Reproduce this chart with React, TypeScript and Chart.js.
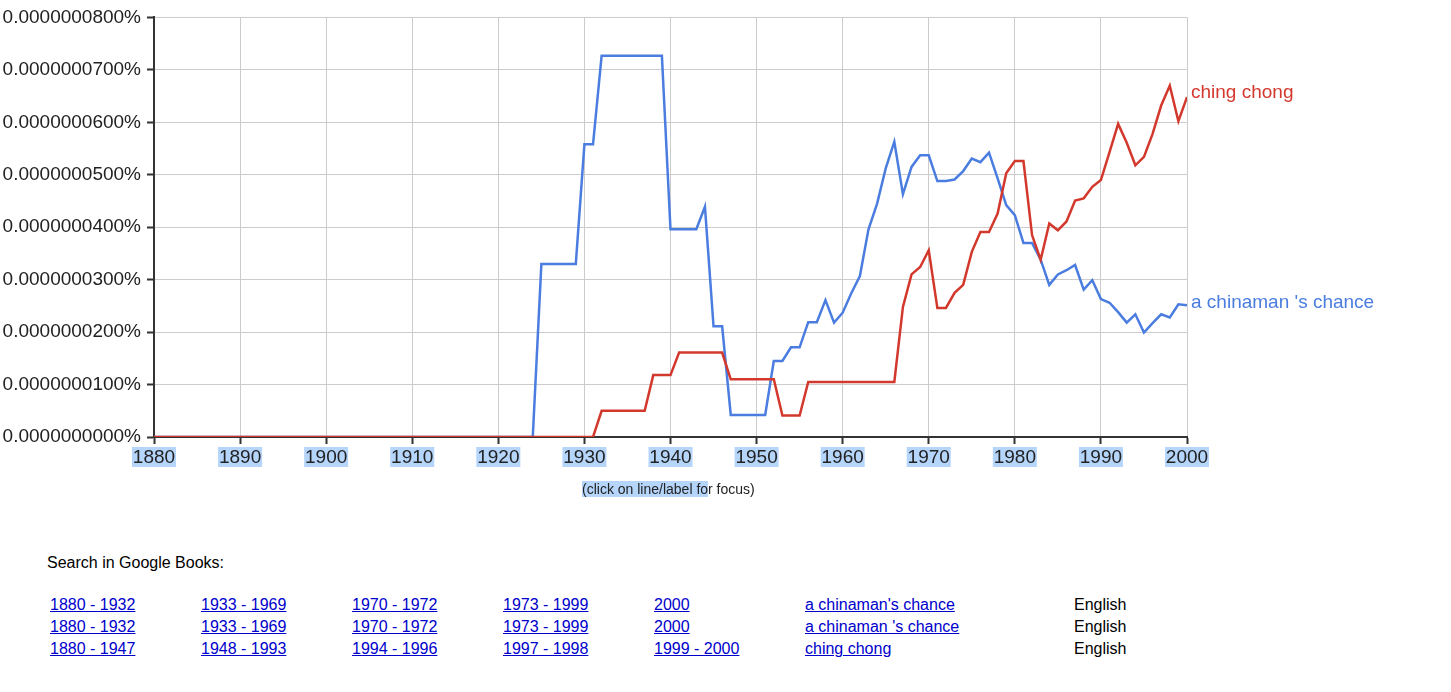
import React, { useEffect, useRef } from "react";
import { Chart, registerables } from "chart.js";

Chart.register(...registerables);

// years on the x axis
const years: number[] = Array.from({ length: 121 }, (_, i) => 1880 + i);

// values in units of 0.0000000100 %
const chinamanChance: number[] = [
  // 1880-1924
  0, 0, 0, 0, 0, 0, 0, 0, 0, 0,
  0, 0, 0, 0, 0, 0, 0, 0, 0, 0,
  0, 0, 0, 0, 0, 0, 0, 0, 0, 0,
  0, 0, 0, 0, 0, 0, 0, 0, 0, 0,
  0, 0, 0, 0, 0,
  // 1925-1939
  3.30, 3.30, 3.30, 3.30, 3.30, 5.58, 5.58, 7.27, 7.27, 7.27, 7.27, 7.27, 7.27, 7.27, 7.27,
  // 1940-1951
  3.96, 3.96, 3.96, 3.96, 4.39, 2.11, 2.11, 0.42, 0.42, 0.42, 0.42, 0.42,
  // 1952-1959
  1.45, 1.45, 1.71, 1.71, 2.19, 2.19, 2.61, 2.18,
  // 1960-1969
  2.37, 2.74, 3.07, 3.96, 4.45, 5.12, 5.63, 4.63, 5.15, 5.37,
  // 1970-1979
  5.37, 4.88, 4.88, 4.91, 5.07, 5.31, 5.24, 5.42, 4.93, 4.42,
  // 1980-1989
  4.23, 3.70, 3.70, 3.38, 2.90, 3.10, 3.18, 3.28, 2.81, 2.99,
  // 1990-2000
  2.63, 2.56, 2.38, 2.18, 2.34, 1.99, 2.17, 2.34, 2.28, 2.53, 2.51,
];

const chingChong: number[] = [
  // 1880-1931
  0, 0, 0, 0, 0, 0, 0, 0, 0, 0,
  0, 0, 0, 0, 0, 0, 0, 0, 0, 0,
  0, 0, 0, 0, 0, 0, 0, 0, 0, 0,
  0, 0, 0, 0, 0, 0, 0, 0, 0, 0,
  0, 0, 0, 0, 0, 0, 0, 0, 0, 0,
  0, 0,
  // 1932-1946
  0.50, 0.50, 0.50, 0.50, 0.50, 0.50, 1.18, 1.18, 1.18, 1.61, 1.61, 1.61, 1.61, 1.61, 1.61,
  // 1947-1966
  1.10, 1.10, 1.10, 1.10, 1.10, 1.10, 0.41, 0.41, 0.41, 1.05,
  1.05, 1.05, 1.05, 1.05, 1.05, 1.05, 1.05, 1.05, 1.05, 1.05,
  // 1967-1979
  2.48, 3.10, 3.24, 3.56, 2.46, 2.46, 2.75, 2.90, 3.53, 3.91, 3.91, 4.26, 5.03,
  // 1980-1989
  5.26, 5.26, 3.85, 3.38, 4.07, 3.94, 4.11, 4.51, 4.55, 4.77,
  // 1990-2000
  4.90, 5.43, 5.97, 5.61, 5.18, 5.34, 5.78, 6.32, 6.70, 6.02, 6.48,
];

const seriesNames = ["ching chong", "a chinaman 's chance"];
const seriesColors = ["#d3382d", "#4a7ddf"];

const searchTitle = "Search in Google Books:";
const linkRows: string[][] = [
  ["1880 - 1932", "1933 - 1969", "1970 - 1972", "1973 - 1999", "2000", "a chinaman's chance"],
  ["1880 - 1932", "1933 - 1969", "1970 - 1972", "1973 - 1999", "2000", "a chinaman 's chance"],
  ["1880 - 1947", "1948 - 1993", "1994 - 1996", "1997 - 1998", "1999 - 2000", "ching chong"],
];
const languageLabel = "English";
const linkColumnsX = [50, 201, 352, 503, 654, 805];

const FONT = "'Liberation Sans', Arial, Helvetica, sans-serif";

const highlightPlugin = {
  id: "tickHighlight",
  beforeDraw(chart: any) {
    const xs = chart.scales.x;
    const ctx = chart.ctx;
    ctx.save();
    ctx.fillStyle = "#b5d5fb";
    xs.ticks.forEach((t: any) => {
      const px = xs.getPixelForValue(t.value);
      ctx.fillRect(px - 22, 447, 44, 20);
    });
    ctx.restore();
  },
};

const endLabelPlugin = {
  id: "endLabels",
  afterDatasetsDraw(chart: any) {
    const ctx = chart.ctx;
    ctx.save();
    ctx.font = `19px ${FONT}`;
    ctx.textAlign = "left";
    ctx.textBaseline = "alphabetic";
    chart.data.datasets.forEach((ds: any, i: number) => {
      const meta = chart.getDatasetMeta(i);
      const pt = meta.data[meta.data.length - 1];
      if (!pt) return;
      ctx.fillStyle = ds.borderColor;
      ctx.fillText(ds.label, pt.x + 4, pt.y + (i === 0 ? 1 : 3));
    });
    ctx.restore();
  },
};

function NgramChart() {
  const ref = useRef<HTMLCanvasElement | null>(null);
  useEffect(() => {
    if (!ref.current) return;
    Chart.defaults.font.family = FONT;
    const chart = new Chart(ref.current, {
      type: "line",
      data: {
        datasets: [
          {
            label: seriesNames[0],
            data: years.map((y, i) => ({ x: y, y: chingChong[i] })),
            borderColor: seriesColors[0],
            backgroundColor: seriesColors[0],
            borderWidth: 2.5,
            pointRadius: 0,
            tension: 0,
          },
          {
            label: seriesNames[1],
            data: years.map((y, i) => ({ x: y, y: chinamanChance[i] })),
            borderColor: seriesColors[1],
            backgroundColor: seriesColors[1],
            borderWidth: 2.5,
            pointRadius: 0,
            tension: 0,
          },
        ],
      },
      options: {
        animation: false,
        responsive: false,
        maintainAspectRatio: false,
        events: [],
        layout: { padding: { top: 17, right: 264, left: 0, bottom: 0 } },
        plugins: { legend: { display: false }, tooltip: { enabled: false } },
        scales: {
          x: {
            type: "linear",
            min: 1880,
            max: 2000,
            afterFit(scale: any) {
              scale.height = 83;
            },
            ticks: {
              stepSize: 10,
              color: "#222",
              font: { size: 19 },
              padding: 2,
              maxRotation: 0,
              callback: (v: any) => String(v),
            },
            grid: {
              color: "#cccccc",
              lineWidth: 1,
              tickColor: "#333",
              tickLength: 7,
              tickWidth: 2,
            },
            border: { display: true, color: "#333", width: 2 },
          },
          y: {
            min: 0,
            max: 8,
            afterFit(scale: any) {
              scale.width = 154;
            },
            ticks: {
              stepSize: 1,
              color: "#222",
              font: { size: 19 },
              padding: 6,
              callback: (v: any) => (Number(v) / 1e8).toFixed(10) + "%",
            },
            grid: {
              color: "#cccccc",
              lineWidth: 1,
              tickColor: "#333",
              tickLength: 7,
              tickWidth: 2,
            },
            border: { display: true, color: "#333", width: 2 },
          },
        },
      },
      plugins: [highlightPlugin, endLabelPlugin],
    });
    return () => chart.destroy();
  }, []);
  return <canvas ref={ref} width={1451} height={520} style={{ display: "block" }} />;
}

export default function App() {
  return (
    <div
      style={{
        position: "fixed",
        left: 0,
        top: 0,
        width: 1451,
        height: 692,
        background: "#fff",
        fontFamily: FONT,
        overflow: "hidden",
      }}
    >
      <div style={{ position: "absolute", left: 0, top: 0, width: 1451, height: 520 }}>
        <NgramChart />
      </div>
      <div
        style={{
          position: "absolute",
          left: 582,
          top: 481,
          fontSize: 14,
          lineHeight: "16px",
          color: "#222",
          whiteSpace: "nowrap",
        }}
      >
        <span style={{ background: "#b5d5fb" }}>(click on line/label fo</span>
        <span>r focus)</span>
      </div>
      <div
        style={{
          position: "absolute",
          left: 47,
          top: 554,
          fontSize: 16,
          lineHeight: "18px",
          color: "#000",
          whiteSpace: "nowrap",
        }}
      >
        {searchTitle}
      </div>
      {linkRows.map((row, r) => (
        <React.Fragment key={r}>
          {row.map((txt, c) => (
            <a
              key={c}
              href="#"
              onClick={(e) => e.preventDefault()}
              style={{
                position: "absolute",
                left: linkColumnsX[c],
                top: 596 + r * 22,
                fontSize: 16,
                lineHeight: "18px",
                color: "#0000cc",
                textDecoration: "underline",
                whiteSpace: "nowrap",
              }}
            >
              {txt}
            </a>
          ))}
          <div
            style={{
              position: "absolute",
              left: 1074,
              top: 596 + r * 22,
              fontSize: 16,
              lineHeight: "18px",
              color: "#000",
              whiteSpace: "nowrap",
            }}
          >
            {languageLabel}
          </div>
        </React.Fragment>
      ))}
    </div>
  );
}
